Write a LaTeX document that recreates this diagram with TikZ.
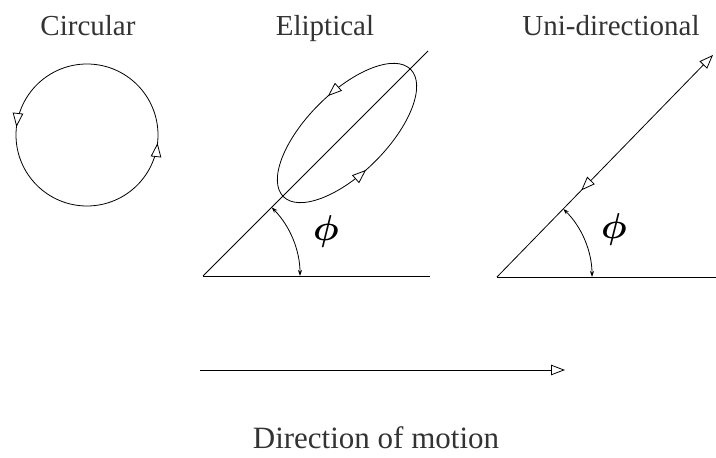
\documentclass[tikz,border=0pt]{standalone}
\usepackage{graphicx}
\usepackage{bm}
\usepackage{fontspec}
\setmainfont{Liberation Serif}
\usetikzlibrary{arrows.meta,decorations.markings}
\newcommand{\bigphi}{\scalebox{3.6}{$\bm{\phi}$}}
\begin{document}
\begin{tikzpicture}[x=1pt,y=1pt,
  line width=0.8pt,
  title/.style={font=\fontsize{29}{29}\selectfont, text=black!80, anchor=base, inner sep=0pt},
  phitext/.style={inner sep=0pt},
  opentip/.tip={Triangle[fill=white,length=14pt,width=10.5pt]},
  smalltip/.tip={Stealth[length=6pt,width=4pt]},
  marks/.style 2 args={postaction={decorate},decoration={markings,
     mark=at position #1 with {\arrow[line width=0.8pt]{opentip}},
     mark=at position #2 with {\arrow[line width=0.8pt]{opentip}}}},
  revmark/.style={postaction={decorate},decoration={markings,
     mark=at position #1 with {\arrowreversed[line width=0.8pt]{opentip}}}}
]
\useasboundingbox (0,0) rectangle (716,458);

% titles
\node[title] (tcirc) at (88,422) {Circular};
\node[title] (tell) at (325,422) {Eliptical};
\node[title] (tuni) at (611,422) {Uni-directional};

% circular
\coordinate (cc) at (87,323);
\draw[marks={0.482}{0.982}] (158,323) arc[start angle=0,end angle=360,radius=71];

% elliptical
\coordinate (o1) at (203,182);
\coordinate (h1) at (430,182);
\coordinate (t1) at (428,407);
\draw (o1) -- (h1);
\draw (o1) -- (t1);
\draw[rotate around={45:(347,325)}, marks={0.22}{0.72}] (347,325) ellipse [x radius=90, y radius=40];
\draw[smalltip-smalltip] (300,182) arc[start angle=0,end angle=45,radius=97];
\node[phitext] (phi1) at (326,226) {\bigphi};

% uni-directional
\coordinate (o2) at (497,181);
\coordinate (h2) at (716,181);
\coordinate (t2) at (713,403);
\draw (o2) -- (h2);
\draw[-opentip, revmark=0.39] (o2) -- (t2);
\draw[smalltip-smalltip] (592,181) arc[start angle=0,end angle=45.8,radius=95];
\node[phitext] (phi2) at (614,228) {\bigphi};

% direction of motion
\coordinate (m1) at (200,88);
\coordinate (m2) at (565,88);
\draw[-opentip] (m1) -- (m2);
\node[title, font=\fontsize{31}{31}\selectfont] (tdir) at (376,9) {Direction of motion};
\end{tikzpicture}
\end{document}
